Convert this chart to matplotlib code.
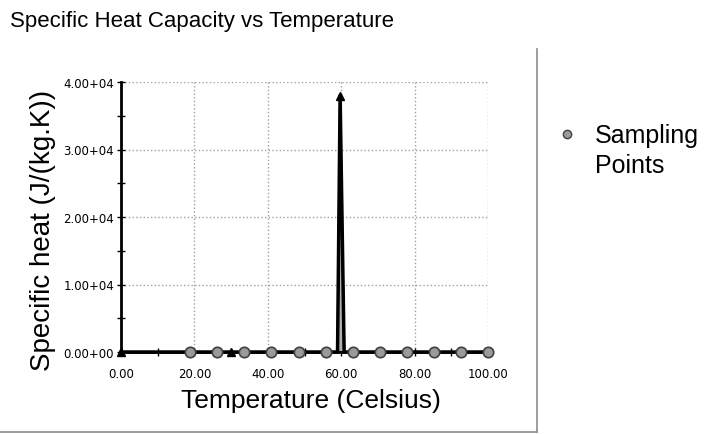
#!/usr/bin/env python3

# Specific heat capacity vs temperature, redrawn

import matplotlib as mpl
mpl.use("Agg")

import matplotlib.pyplot as plt             # noqa
import numpy as np                          # noqa
from matplotlib.lines import Line2D         # noqa
from matplotlib.ticker import FuncFormatter, MultipleLocator   # noqa

plt.rcParams['font.family'] = ['Liberation Sans', 'DejaVu Sans']

# curve through the transition peak (temperature C, specific heat J/(kg.K))
curve_t = [0.0, 30.0, 59.0, 59.7, 60.8, 100.0]
curve_c = [0.0, 0.0, 0.0, 38000.0, 0.0, 0.0]
arrow_idx = [0, 1, 3]     # points drawn with a triangle

# sampling points
samp_t = [18.8, 26.2, 33.6, 41.0, 48.4, 55.8, 63.2, 70.6, 77.9, 85.3, 92.6, 100.0]
samp_c = [0, 0, 0, 0, 0, 0, 0, 0, 0, 0, 0, 0]

xticks = [0, 20, 40, 60, 80, 100]
yticks = [0, 10000, 20000, 30000, 40000]


def sci(v, pos):
  if v == 0:
    return '0.00+00'
  e = int(np.floor(np.log10(abs(v))))
  return '%.2f+%02d' % (v / 10**e, e)


fig = plt.figure(figsize=(7.07, 4.35), dpi=100)
ax = fig.add_axes([121/707, 1-353/435, 367/707, 270/435])

ax.set_xlim(0, 100)
ax.set_ylim(0, 40000)
ax.set_xticks(xticks)
ax.set_yticks(yticks)
ax.xaxis.set_minor_locator(MultipleLocator(10))
ax.yaxis.set_minor_locator(MultipleLocator(5000))
ax.xaxis.set_major_formatter(FuncFormatter(lambda v, p: '%.2f' % v))
ax.yaxis.set_major_formatter(FuncFormatter(sci))
ax.tick_params(which='both', direction='inout', color='black', width=1)
ax.tick_params(which='major', length=6, labelsize=8.5, pad=2)
ax.tick_params(axis='x', which='major', pad=8)
ax.tick_params(which='minor', length=6)
for lab in ax.get_xticklabels() + ax.get_yticklabels():
  lab.set_family('DejaVu Sans')
ax.grid(which='major', color='#a0a0a0', linestyle=':', linewidth=1)

for s in ['top', 'right']:
  ax.spines[s].set_visible(False)
for s in ['left', 'bottom']:
  ax.spines[s].set_linewidth(2)
  ax.spines[s].set_color('black')

# peak, gray inside with black edges
ax.fill(curve_t[2:5], curve_c[2:5], facecolor='#b0b0b0', edgecolor='black', linewidth=1.5, zorder=3)
ax.plot(curve_t, curve_c, color='black', linewidth=2.5, zorder=4, clip_on=False)
ax.plot(np.array(curve_t)[arrow_idx], np.array(curve_c)[arrow_idx], linestyle='none',
        marker='^', markersize=6, color='black', zorder=6, clip_on=False)
ax.plot(samp_t, samp_c, linestyle='none', marker='o', markersize=7.5,
        markerfacecolor='#9a9a9a', markeredgecolor='#404040', markeredgewidth=1.2,
        zorder=5, clip_on=False)

# axis titles placed like the original
fig.text(311/707, 1-401/435, 'Temperature (Celsius)', fontsize=19, ha='center', va='center')
fig.text(43/707, 1-230/435, 'Specific heat (J/(kg.K))', fontsize=20, ha='center', va='center',
         rotation=90)

fig.text(10/707, 1-22/435, 'Specific Heat Capacity vs Temperature', fontsize=16,
         va='center', ha='left')

# legend
fig.lines.append(Line2D([567/707], [1-135/435], transform=fig.transFigure, linestyle='none',
                        marker='o', markersize=6, markerfacecolor='#9a9a9a',
                        markeredgecolor='#404040'))
fig.text(595/707, 1-124/435, 'Sampling\nPoints', fontsize=18, va='top', ha='left',
         linespacing=1.3)

# outer frame
fig.lines.append(Line2D([537/707, 537/707], [1-50/435, 1-433/435], transform=fig.transFigure,
                        color='#8c8c8c', linewidth=1.2))
fig.lines.append(Line2D([0, 537/707], [1-433/435, 1-433/435], transform=fig.transFigure,
                        color='#8c8c8c', linewidth=1.2))

plt.savefig('out.png', dpi=100)
